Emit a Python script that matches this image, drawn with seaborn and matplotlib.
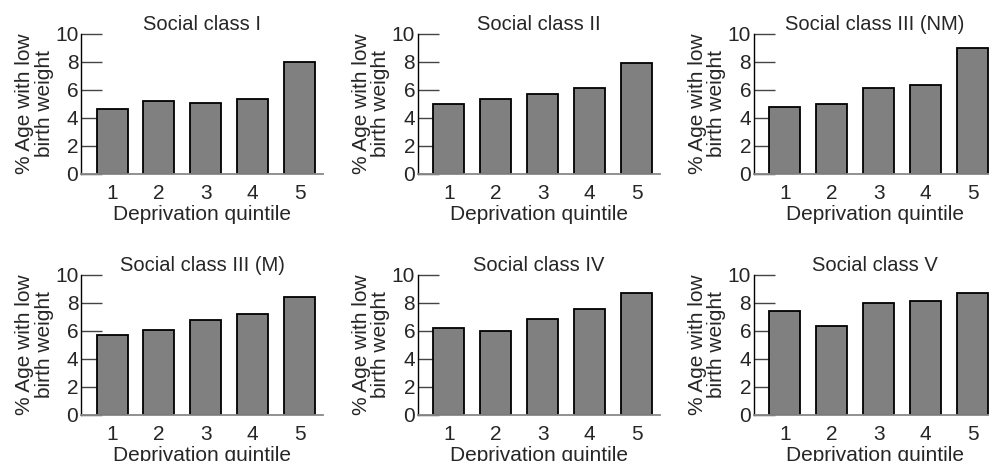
import pandas as pd
import seaborn as sns
import matplotlib.pyplot as plt

# Low birth weight by deprivation quintile, per social class
quintiles = ["1", "2", "3", "4", "5"]
class_names = ["Social class I", "Social class II", "Social class III (NM)",
               "Social class III (M)", "Social class IV", "Social class V"]
class_i = [4.67, 5.24, 5.07, 5.38, 7.98]
class_ii = [5.00, 5.33, 5.71, 6.14, 7.90]
class_iii_nm = [4.79, 5.02, 6.14, 6.33, 8.98]
class_iii_m = [5.71, 6.07, 6.75, 7.23, 8.39]
class_iv = [6.21, 5.97, 6.85, 7.58, 8.72]
class_v = [7.39, 6.33, 7.96, 8.15, 8.74]
all_values = [class_i, class_ii, class_iii_nm, class_iii_m, class_iv, class_v]

sns.set_theme(style="ticks")
plt.rcParams['font.family'] = ['Liberation Sans', 'DejaVu Sans']

fig = plt.figure(figsize=(9.89, 4.61), dpi=100)

lefts = [0.082, 0.4226, 0.7624]
bottoms = [0.6226, 0.0998]
w, h = 0.2447, 0.304
fs = 15

for i, (name, vals) in enumerate(zip(class_names, all_values)):
    row, col = divmod(i, 3)
    ax = fig.add_axes([lefts[col], bottoms[row], w, h])
    df = pd.DataFrame({"quintile": quintiles, "pct": vals})
    sns.barplot(data=df, x="quintile", y="pct", ax=ax, color="#808080",
                saturation=1, width=0.66, edgecolor="black", linewidth=1.3)
    ax.set_xlim(-0.66, 4.5)
    ax.set_ylim(0, 10)
    ax.set_yticks([0, 2, 4, 6, 8, 10])
    ax.set_title(name, fontsize=14.5, pad=3)
    ax.set_xlabel("Deprivation quintile", fontsize=fs, labelpad=2)
    ax.set_ylabel("% Age with low\nbirth weight", fontsize=fs, labelpad=1,
                  linespacing=1.05)
    ax.tick_params(axis="y", direction="in", length=15, width=1,
                   color="#444444", labelsize=fs, pad=2)
    ax.tick_params(axis="x", length=0, labelsize=fs, pad=7)
    for s in ["top", "right"]:
        ax.spines[s].set_visible(False)
    ax.spines["left"].set_color("black")
    ax.spines["left"].set_linewidth(1)
    ax.spines["bottom"].set_color("#888888")
    ax.spines["bottom"].set_linewidth(1.3)

fig.savefig("out.png", dpi=100)
